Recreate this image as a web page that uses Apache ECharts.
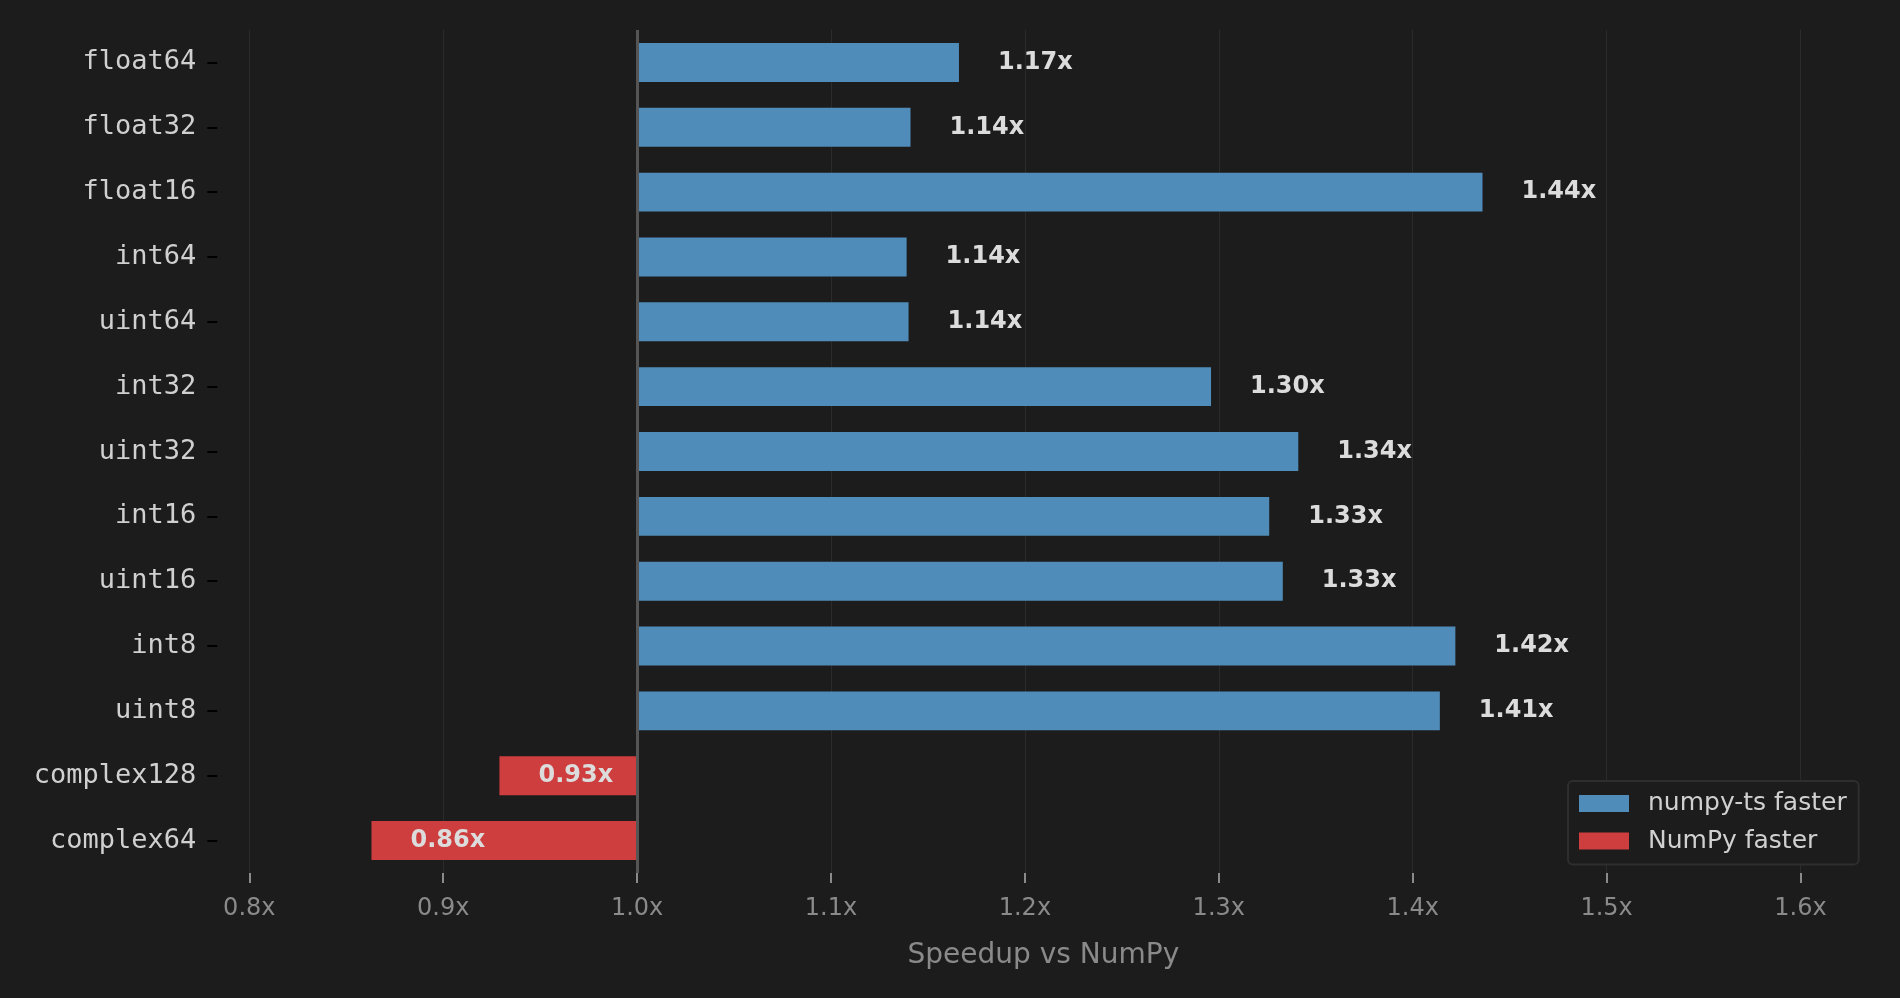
<!DOCTYPE html>
<html>
<head>
<meta charset="utf-8">
<title>Speedup vs NumPy</title>
<script src="https://cdn.jsdelivr.net/npm/echarts@6/dist/echarts.min.js"></script>
<style>
  html, body { margin: 0; padding: 0; background: #1c1c1c; }
  #chart { width: 1900px; height: 998px; }
</style>
</head>
<body>
<div id="chart"></div>
<script>
// dtypes, top to bottom
const dtypes = ['float64', 'float32', 'float16', 'int64', 'uint64', 'int32', 'uint32',
                'int16', 'uint16', 'int8', 'uint8', 'complex128', 'complex64'];
// speedup of numpy-ts over NumPy
const speedup = [1.166, 1.141, 1.436, 1.139, 1.140, 1.296, 1.341,
                 1.326, 1.333, 1.422, 1.414, 0.929, 0.863];
const xTicks = [0.8, 0.9, 1.0, 1.1, 1.2, 1.3, 1.4, 1.5, 1.6];
const parity = 1.0;

const BLUE = '#4f8cb9';
const RED = '#ce3e3e';

// bars grow from the parity line, so stack them on an invisible base
const baseVals = speedup.map(v => Math.min(v, parity));
const fasterVals = speedup.map(v => v >= parity ? v - parity : '-');
const slowerVals = speedup.map(v => v < parity ? parity - v : '-');

const valueLabel = {
  show: true,
  distance: 39,
  color: '#dcdcdc',
  fontFamily: 'DejaVu Sans',
  fontWeight: 'bold',
  fontSize: 24,
  formatter: p => speedup[p.dataIndex].toFixed(2) + 'x'
};

let chart = echarts.init(document.getElementById('chart'));
chart.setOption({
  backgroundColor: '#1c1c1c',
  animation: false,
  grid: { left: 249.3, right: 99.5, top: 30, bottom: 125 },
  legend: {
    data: ['numpy-ts faster', 'NumPy faster'],
    orient: 'vertical',
    left: 1568,
    top: 781,
    icon: 'rect',
    itemWidth: 50,
    itemHeight: 17,
    itemGap: 12.5,
    padding: [10, 12, 11, 11],
    backgroundColor: '#1c1c1c',
    borderColor: '#2e2e2e',
    borderWidth: 2,
    borderRadius: 5,
    selectedMode: false,
    textStyle: {
      color: '#d0d0d0',
      fontFamily: 'DejaVu Sans',
      fontSize: 25,
      lineHeight: 24,
      padding: [0, 0, 0, 14]
    }
  },
  xAxis: {
    type: 'value',
    min: xTicks[0],
    max: xTicks[xTicks.length - 1],
    interval: 0.1,
    name: 'Speedup vs NumPy',
    nameLocation: 'middle',
    nameGap: 69,
    nameTextStyle: {
      color: '#8a8a8a',
      fontFamily: 'DejaVu Sans',
      fontSize: 28,
      padding: [0, 0, 0, 37]
    },
    axisLine: { show: false },
    axisTick: { show: true, length: 10, lineStyle: { color: '#8a8a8a', width: 2 } },
    axisLabel: {
      margin: 24,
      color: '#8a8a8a',
      fontFamily: 'DejaVu Sans',
      fontSize: 24,
      formatter: v => v.toFixed(1) + 'x'
    },
    splitLine: { show: true, lineStyle: { color: '#2b2b2b', width: 1 } }
  },
  yAxis: {
    type: 'category',
    data: dtypes,
    inverse: true,
    offset: 32,
    axisLine: { show: false },
    axisTick: { show: true, alignWithLabel: true, length: 10, lineStyle: { color: '#000000', width: 2 } },
    axisLabel: {
      margin: 21,
      color: '#d0d0d0',
      fontFamily: 'DejaVu Sans Mono',
      fontSize: 27
    },
    splitLine: { show: false }
  },
  series: [
    {
      name: 'base',
      type: 'bar',
      stack: 'speed',
      barWidth: '60%',
      silent: true,
      itemStyle: { color: 'rgba(0,0,0,0)' },
      data: baseVals
    },
    {
      name: 'numpy-ts faster',
      type: 'bar',
      stack: 'speed',
      barWidth: '60%',
      itemStyle: { color: BLUE },
      label: Object.assign({ position: 'right' }, valueLabel),
      data: fasterVals,
      markLine: {
        silent: true,
        symbol: 'none',
        label: { show: false },
        lineStyle: { color: '#555555', width: 3, type: 'solid' },
        data: [{ xAxis: parity }]
      }
    },
    {
      name: 'NumPy faster',
      type: 'bar',
      stack: 'speed',
      barWidth: '60%',
      itemStyle: { color: RED },
      label: Object.assign({ position: 'insideLeft' }, valueLabel),
      data: slowerVals
    }
  ]
});
</script>
</body>
</html>
